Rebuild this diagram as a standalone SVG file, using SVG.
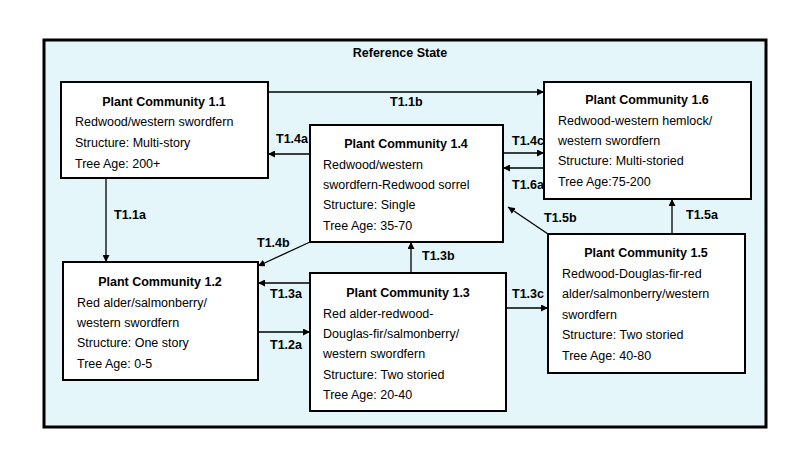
<svg xmlns="http://www.w3.org/2000/svg" width="800" height="476" viewBox="0 0 800 476">
<defs>
<marker id="ah" viewBox="0 0 10 10" refX="10" refY="5" markerWidth="7" markerHeight="7" orient="auto-start-reverse" markerUnits="userSpaceOnUse"><path d="M0,0 L10,5 L0,10 z" fill="#000"/></marker>
<style>
text{font-family:"Liberation Sans",Arial,sans-serif;font-size:12.5px;fill:#000}
.t{font-weight:bold;text-anchor:middle}
.l{font-weight:bold}
.b{fill:#fff;stroke:#000;stroke-width:2}
.c{stroke:#000;stroke-width:1.3;fill:none;marker-end:url(#ah)}
</style>
</defs>
<rect width="800" height="476" fill="#fff"/>
<rect x="44" y="40" width="722" height="387" fill="#e4f6fa" stroke="#000" stroke-width="3"/>
<text class="t" x="400" y="57">Reference State</text>
<g id="connectors">
<path class="c" d="M268,92 H544"/>
<path class="c" d="M310,154 H268"/>
<path class="c" d="M106,178 V262"/>
<path class="c" d="M310,242 L258,266"/>
<path class="c" d="M411,273 V242"/>
<path class="c" d="M310,283 H258"/>
<path class="c" d="M258,332 H310"/>
<path class="c" d="M506,308 H548"/>
<path class="c" d="M503,153 H544"/>
<path class="c" d="M549,168 H503"/>
<path class="c" d="M548,234 L508,207"/>
<path class="c" d="M672,234 V199"/>
<text class="l" x="390" y="106">T1.1b</text>
<text class="l" x="276" y="143">T1.4a</text>
<text class="l" x="114" y="219">T1.1a</text>
<text class="l" x="257" y="247">T1.4b</text>
<text class="l" x="422" y="260">T1.3b</text>
<text class="l" x="270" y="298">T1.3a</text>
<text class="l" x="270" y="349">T1.2a</text>
<text class="l" x="512" y="298">T1.3c</text>
<text class="l" x="512" y="145">T1.4c</text>
<text class="l" x="512" y="189">T1.6a</text>
<text class="l" x="544" y="222">T1.5b</text>
<text class="l" x="686" y="219">T1.5a</text>
</g>
<g id="pc11"><rect class="b" x="61" y="82" width="207" height="96"/>
<text class="t" x="164" y="106">Plant Community 1.1</text>
<text x="75" y="126">Redwood/western swordfern</text>
<text x="75" y="147">Structure: Multi-story</text>
<text x="75" y="168">Tree Age:  200+</text></g>
<g id="pc14"><rect class="b" x="310" y="125" width="193" height="117"/>
<text class="t" x="406" y="148">Plant Community 1.4</text>
<text x="323" y="169">Redwood/western</text>
<text x="323" y="189">swordfern-Redwood sorrel</text>
<text x="323" y="209">Structure: Single</text>
<text x="323" y="230">Tree Age: 35-70</text></g>
<g id="pc16"><rect class="b" x="544" y="82" width="207" height="117"/>
<text class="t" x="647" y="104">Plant Community 1.6</text>
<text x="558" y="125">Redwood-western hemlock/</text>
<text x="558" y="145">western swordfern</text>
<text x="558" y="165">Structure: Multi-storied</text>
<text x="558" y="186">Tree Age:75-200</text></g>
<g id="pc15"><rect class="b" x="548" y="234" width="197" height="139"/>
<text class="t" x="646" y="257">Plant Community 1.5</text>
<text x="562" y="278">Redwood-Douglas-fir-red</text>
<text x="562" y="298">alder/salmonberry/western</text>
<text x="562" y="319">swordfern</text>
<text x="562" y="339">Structure: Two storied</text>
<text x="562" y="360">Tree Age: 40-80</text></g>
<g id="pc13"><rect class="b" x="310" y="273" width="196" height="138"/>
<text class="t" x="408" y="297">Plant Community 1.3</text>
<text x="323" y="318">Red alder-redwood-</text>
<text x="323" y="338">Douglas-fir/salmonberry/</text>
<text x="323" y="358">western swordfern</text>
<text x="323" y="379">Structure: Two storied</text>
<text x="323" y="399">Tree Age: 20-40</text></g>
<g id="pc12"><rect class="b" x="63" y="262" width="195" height="118"/>
<text class="t" x="160" y="286">Plant Community 1.2</text>
<text x="77" y="307">Red alder/salmonberry/</text>
<text x="77" y="327">western swordfern</text>
<text x="77" y="347">Structure: One story</text>
<text x="77" y="368">Tree Age: 0-5</text></g>
</svg>
